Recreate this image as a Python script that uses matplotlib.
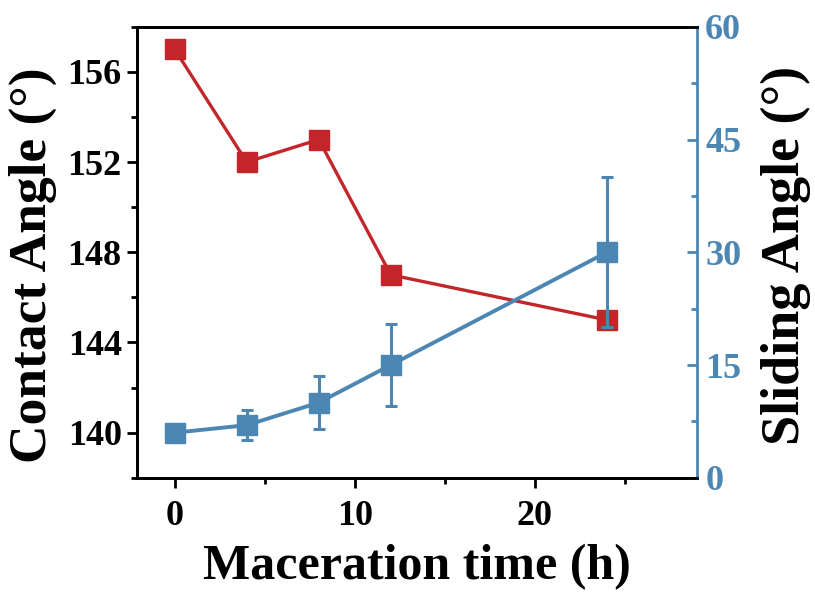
import numpy as np
import matplotlib
matplotlib.use("Agg")
import matplotlib.pyplot as plt
from matplotlib.ticker import MultipleLocator

# ── DATA ───────────────────────────────────────────────────
time_h        = [0, 4, 8, 12, 24]
contact_angle = [157, 152, 153, 147, 145]
sliding_angle = [6, 7, 10, 15, 30]
sliding_err   = [1, 2, 3.5, 5.5, 10]

# ── STYLE ──────────────────────────────────────────────────
RED  = "#C3262A"
BLUE = "#4C87B4"
plt.rcParams["font.family"] = ["Liberation Serif", "DejaVu Serif"]
plt.rcParams["font.weight"] = "bold"

fig = plt.figure(figsize=(8.15, 5.95), dpi=100)
ax = fig.add_axes([0.168, 0.197, 0.687, 0.758])
ax2 = ax.twinx()

ax.plot(time_h, contact_angle, color=RED, lw=2.4, marker="s", ms=14.5,
        zorder=3, clip_on=False)
ax2.errorbar(time_h, sliding_angle, yerr=sliding_err, color=BLUE, lw=2.8,
             marker="s", ms=14.5, elinewidth=2.2, capsize=4.5, capthick=2.2,
             zorder=3, clip_on=False)

ax.set_xlim(-2.1, 29)
ax.set_ylim(138, 158)
ax2.set_ylim(0, 60)

ax.xaxis.set_major_locator(MultipleLocator(10))
ax.xaxis.set_minor_locator(MultipleLocator(5))
ax.yaxis.set_major_locator(MultipleLocator(4))
ax.yaxis.set_minor_locator(MultipleLocator(2))
ax2.yaxis.set_major_locator(MultipleLocator(15))
ax2.yaxis.set_minor_locator(MultipleLocator(7.5))

for s in ax.spines.values():
    s.set_linewidth(2)
for s in ax2.spines.values():
    s.set_linewidth(2)
ax2.spines["right"].set_color(BLUE)
ax.spines["right"].set_visible(False)

ax.tick_params(axis="both", which="major", direction="out", length=7, width=2,
               labelsize=26, pad=4)
ax.tick_params(axis="x", which="major", pad=9)
ax.tick_params(axis="both", which="minor", direction="out", length=4, width=2)
ax.tick_params(axis="x", which="both", top=False)
ax2.tick_params(axis="y", which="major", direction="in", length=7, width=2,
                color=BLUE, labelcolor=BLUE, labelsize=26, pad=6)
ax2.tick_params(axis="y", which="minor", direction="in", length=4, width=2,
                color=BLUE)

ax.set_xlabel("Maceration time (h)", fontsize=36, fontweight="bold", labelpad=8)
fig.text(0.0405, 0.555, "Contact Angle (°)", rotation=90, ha="center",
         va="center", fontsize=38.5, fontweight="bold")
fig.text(0.964, 0.57, "Sliding Angle (°)", rotation=90, ha="center",
         va="center", fontsize=39, fontweight="bold")

fig.savefig("out.png", dpi=100)
